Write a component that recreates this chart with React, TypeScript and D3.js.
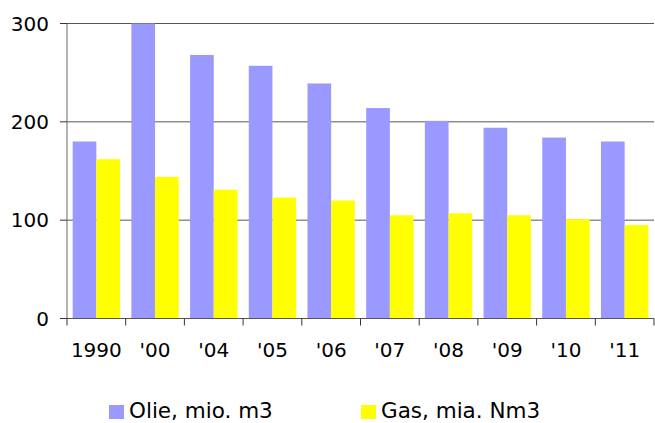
import React from "react";
import * as d3 from "d3";

const categories = ["1990", "'00", "'04", "'05", "'06", "'07", "'08", "'09", "'10", "'11"];
const oilValues = [180, 300, 268, 257, 239, 214, 201, 194, 184, 180];
const gasValues = [162, 144, 131, 123, 120, 105, 107, 105, 101, 95];
const seriesNames = ["Olie, mio. m3", "Gas, mia. Nm3"];
const seriesColors = ["#9999FF", "#FFFF00"];
const yTicks = [0, 100, 200, 300];

const W = 655;
const H = 423;
const left = 67;
const right = 654;
const top = 23.5;
const bottom = 318.5;
const font = "'DejaVu Sans', Verdana, sans-serif";

export default function App() {
  const x = d3.scaleBand<string>().domain(categories).range([left, right]).paddingInner(0).paddingOuter(0);
  const inner = d3.scaleBand<string>().domain(["oil", "gas"]).range([0, x.bandwidth()]).paddingOuter(0.24).paddingInner(0);
  const y = d3.scaleLinear().domain([0, 300]).range([bottom, top]);
  const series = [oilValues, gasValues];
  const keys = ["oil", "gas"];

  return (
    <svg width={W} height={H} style={{ position: "absolute", left: 0, top: 0, background: "#fff" }}>
      {yTicks.filter((t) => t > 0).map((t) => (
        <line key={"g" + t} x1={left} x2={right} y1={y(t)} y2={y(t)} stroke="#555" strokeWidth={1} />
      ))}
      {series.map((vals, si) =>
        vals.map((v, i) => (
          <rect
            key={si + "-" + i}
            x={(x(categories[i]) as number) + (inner(keys[si]) as number)}
            y={y(v)}
            width={inner.bandwidth()}
            height={y(0) - y(v)}
            fill={seriesColors[si]}
          />
        ))
      )}
      <line x1={left} x2={left} y1={top} y2={bottom} stroke="#808080" strokeWidth={1.2} />
      {yTicks.map((t) => (
        <g key={"yt" + t}>
          <line x1={left - 7} x2={left} y1={y(t)} y2={y(t)} stroke="#333" strokeWidth={1} />
          <text x={49} y={y(t)} dy="0.36em" textAnchor="end" fontFamily={font} fontSize={20} fill="#000">
            {t}
          </text>
        </g>
      ))}
      <line x1={left} x2={right} y1={bottom} y2={bottom} stroke="#555" strokeWidth={1} />
      {categories.map((c, i) => (
        <line key={"xt" + i} x1={x(c) as number} x2={x(c) as number} y1={bottom} y2={bottom + 7} stroke="#333" strokeWidth={1} />
      ))}
      <line x1={right} x2={right} y1={bottom} y2={bottom + 7} stroke="#333" strokeWidth={1} />
      {categories.map((c) => (
        <text key={"xl" + c} x={(x(c) as number) + x.bandwidth() / 2} y={357} textAnchor="middle" fontFamily={font} fontSize={20} fill="#000">
          {c}
        </text>
      ))}
      {seriesNames.map((n, i) => {
        const lx = i === 0 ? 109 : 361;
        return (
          <g key={"lg" + i}>
            <rect x={lx} y={405} width={15} height={14} fill={seriesColors[i]} />
            <text x={lx + 20} y={418} fontFamily={font} fontSize={21.5} fill="#000">
              {n}
            </text>
          </g>
        );
      })}
    </svg>
  );
}
